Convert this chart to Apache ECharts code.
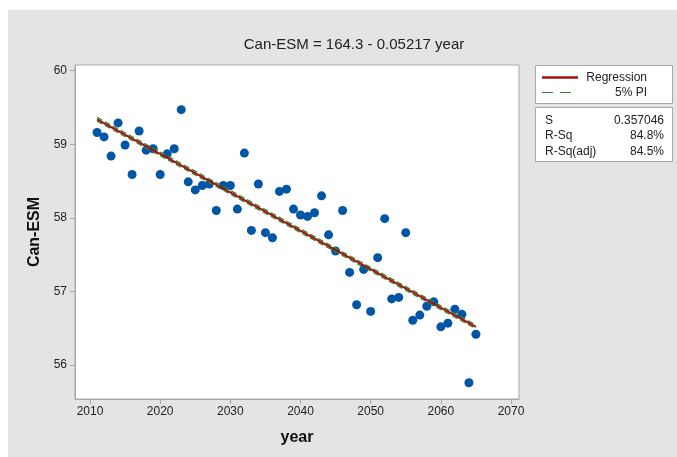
<!DOCTYPE html>
<html>
<head>
<meta charset="utf-8">
<script src="https://cdn.jsdelivr.net/npm/echarts@6/dist/echarts.min.js"></script>
<style>
html,body{margin:0;padding:0;background:#fff;}
#c{width:677px;height:457px;}
</style>
</head>
<body>
<div id="c"></div>
<script>
var years = [2011,2012,2013,2014,2015,2016,2017,2018,2019,2020,2021,2022,2023,2024,2025,2026,2027,2028,2029,2030,2031,2032,2033,2034,2035,2036,2037,2038,2039,2040,2041,2042,2043,2044,2045,2046,2047,2048,2049,2050,2051,2052,2053,2054,2055,2056,2057,2058,2059,2060,2061,2062,2063,2064,2065];
var canEsm = [59.16,59.10,58.84,59.29,58.99,58.59,59.18,58.92,58.94,58.59,58.87,58.94,59.47,58.49,58.38,58.44,58.46,58.10,58.44,58.44,58.12,58.88,57.83,58.46,57.80,57.73,58.36,58.39,58.12,58.04,58.02,58.07,58.30,57.77,57.55,58.10,57.26,56.82,57.30,56.73,57.46,57.99,56.90,56.92,57.80,56.61,56.68,56.80,56.86,56.52,56.57,56.76,56.69,55.76,56.42];
var fitYears = [2011, 2065];
var regression = [59.34, 56.52];
var piUpper = [59.365, 56.545];
var piLower = [59.315, 56.495];
var xTicks = [2010,2020,2030,2040,2050,2060,2070];
var yTicks = [56,57,58,59,60];
var titleText = 'Can-ESM = 164.3 - 0.05217 year';
var statLabels = ['S','R-Sq','R-Sq(adj)'];
var statValues = ['0.357046','84.8%','84.5%'];

function pairs(xs, ys){ return xs.map(function(x,i){ return [x, ys[i]]; }); }

var font = 'Liberation Sans, Arial, sans-serif';
var chart = echarts.init(document.getElementById('c'), null, {renderer:'canvas'});

var graphics = [
  {type:'rect', shape:{x:8,y:10,width:669,height:447}, style:{fill:'#e4e4e4'}, z:-10, silent:true},
  {type:'rect', shape:{x:535.5,y:65.5,width:137,height:38}, style:{fill:'#ffffff', stroke:'#a8a8a8', lineWidth:1}, z:10},
  {type:'line', shape:{x1:542,y1:77.5,x2:578,y2:77.5}, style:{stroke:'#a01010', lineWidth:2.5}, z:11},
  {type:'line', shape:{x1:542,y1:92.5,x2:572,y2:92.5}, style:{stroke:'#2a8a2a', lineWidth:1.2, lineDash:[11,7]}, z:11},
  {type:'text', x:647, y:77.5, style:{text:'Regression', font:'12px '+font, fill:'#222', align:'right', verticalAlign:'middle'}, z:11},
  {type:'text', x:647, y:92.5, style:{text:'5% PI', font:'12px '+font, fill:'#222', align:'right', verticalAlign:'middle'}, z:11},
  {type:'rect', shape:{x:535.5,y:107.5,width:137,height:54}, style:{fill:'#ffffff', stroke:'#a8a8a8', lineWidth:1}, z:10}
];
var statY = [121, 136, 151.5];
statLabels.forEach(function(s,i){
  graphics.push({type:'text', x:545, y:statY[i], style:{text:s, font:'12px '+font, fill:'#222', align:'left', verticalAlign:'middle'}, z:11});
  graphics.push({type:'text', x:664, y:statY[i], style:{text:statValues[i], font:'12px '+font, fill:'#222', align:'right', verticalAlign:'middle'}, z:11});
});

var option = {
  backgroundColor:'#ffffff',
  animation:false,
  title:{text:titleText, left:349, top:32, textAlign:'center',
    textStyle:{fontFamily:font, fontSize:15, fontWeight:'normal', color:'#222'}},
  grid:{left:75, top:65, right:158, bottom:58, show:true, backgroundColor:'#ffffff', borderColor:'#a8a8a8', borderWidth:1},
  xAxis:{type:'value', min:2007.86, max:2071.14,
    name:'year', nameLocation:'middle', nameGap:31,
    nameTextStyle:{fontFamily:font, fontSize:16, fontWeight:'bold', color:'#111'},
    axisLine:{show:true, onZero:false, lineStyle:{color:'#a8a8a8'}},
    axisTick:{show:true, length:5, customValues:xTicks, lineStyle:{color:'#a8a8a8'}},
    axisLabel:{customValues:xTicks, fontFamily:font, fontSize:12, color:'#222', margin:7, formatter:function(v){return String(Math.round(v));}},
    splitLine:{show:false}},
  yAxis:{type:'value', min:55.54, max:60.077,
    name:'Can-ESM', nameLocation:'middle', nameGap:29, nameRotate:90,
    nameTextStyle:{fontFamily:font, fontSize:16, fontWeight:'bold', color:'#111'},
    axisLine:{show:true, onZero:false, lineStyle:{color:'#a8a8a8'}},
    axisTick:{show:true, length:5, customValues:yTicks, lineStyle:{color:'#a8a8a8'}},
    axisLabel:{customValues:yTicks, fontFamily:font, fontSize:12, color:'#222', margin:8, formatter:function(v){return String(Math.round(v));}},
    splitLine:{show:false}},
  graphic:graphics,
  series:[
    {type:'scatter', data:pairs(years, canEsm), symbol:'circle', symbolSize:9,
      itemStyle:{color:'#0055a6', opacity:1}, z:3},
    {type:'line', data:pairs(fitYears, piUpper), symbol:'none',
      lineStyle:{color:'#2a8a2a', width:1.3, type:[6,3]}, z:4},
    {type:'line', data:pairs(fitYears, piLower), symbol:'none',
      lineStyle:{color:'#2a8a2a', width:1.3, type:[6,3]}, z:4},
    {type:'line', data:pairs(fitYears, regression), symbol:'none',
      lineStyle:{color:'#a01010', width:2}, z:5}
  ]
};
chart.setOption(option);
</script>
</body>
</html>
